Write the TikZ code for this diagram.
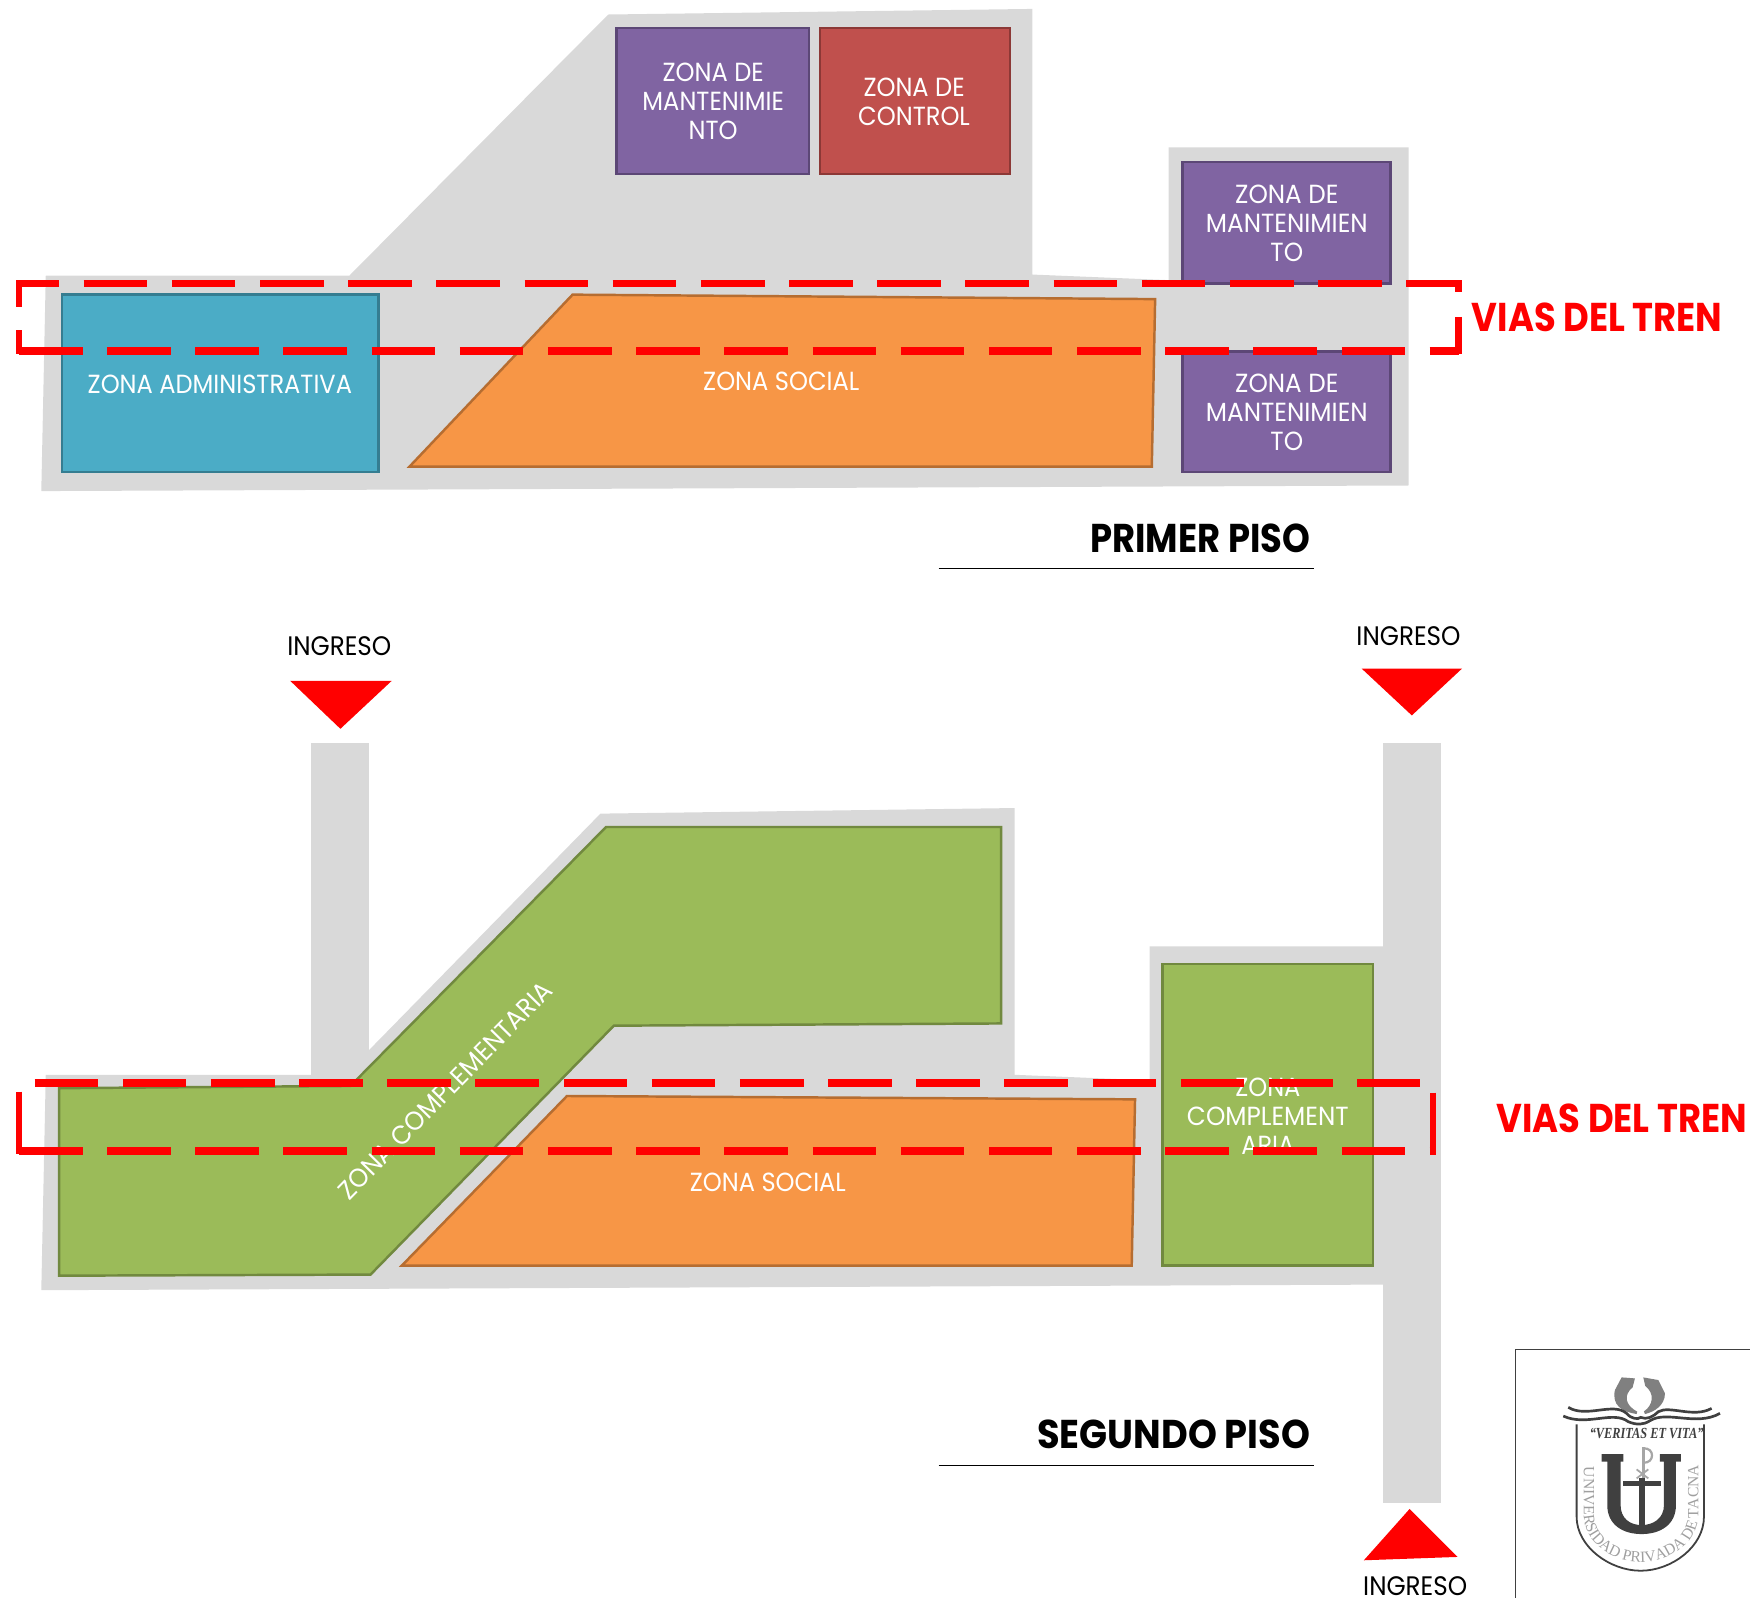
\documentclass[tikz,border=0pt]{standalone}
\usepackage{fontspec}
\usepackage{graphicx}
\usetikzlibrary{decorations.text}
\setmainfont{Poppins}
\newfontfamily\serifface{Liberation Serif}
\newcommand{\angosto}[1]{\scalebox{.92}[1]{#1}}
\newcommand{\estrecho}[1]{\scalebox{.88}[1]{#1}}
\definecolor{grisfondo}{HTML}{D9D9D9}
\definecolor{azulz}{HTML}{4BACC6}\definecolor{azulb}{HTML}{357D91}
\definecolor{naranjaz}{HTML}{F79646}\definecolor{naranjab}{HTML}{B66D31}
\definecolor{moradoz}{HTML}{8064A2}\definecolor{moradob}{HTML}{5C4776}
\definecolor{rojoz}{HTML}{C0504D}\definecolor{rojob}{HTML}{8C3836}
\definecolor{verdez}{HTML}{9BBB59}\definecolor{verdeb}{HTML}{71893F}
\definecolor{oscuro}{HTML}{404040}
\tikzset{
  fondo/.style={fill=grisfondo,draw=none},
  zona/.style={line width=2.2pt,line join=miter},
  azulzona/.style={zona,fill=azulz,draw=azulb},
  naranjazona/.style={zona,fill=naranjaz,draw=naranjab},
  moradozona/.style={zona,fill=moradoz,draw=moradob},
  rojozona/.style={zona,fill=rojoz,draw=rojob},
  verdezona/.style={zona,fill=verdez,draw=verdeb},
  etiqueta/.style={text=white,font=\fontsize{23.5}{26}\selectfont,align=center,inner sep=0pt},
  ingreso/.style={text=black,font=\fontsize{24}{26}\selectfont,inner sep=0pt},
  titulo/.style={text=black,font=\fontsize{36}{40}\selectfont\bfseries,inner sep=0pt,anchor=east},
  vias/.style={text=red,font=\fontsize{36}{42}\selectfont\bfseries,inner sep=0pt},
  regla/.style={line width=1pt,black},
  via/.style={draw=red,line width=7pt,dash pattern=on 57pt off 22pt},
  viasolida/.style={draw=red,line width=6pt},
  flecha/.style={fill=red,draw=none},
  marco/.style={draw=oscuro,line width=1pt},
}
\begin{document}
\begin{tikzpicture}[x=1pt,y=-1pt]
\useasboundingbox (0,0) rectangle (1568,1432);
% ---- primer piso
\fill[fondo] (41,247) -- (313,247) -- (545,13) -- (925,8) -- (925,246) -- (1047,251) -- (1047,132) -- (1262,132) -- (1262,435) -- (37,440) -- cycle;
\path[azulzona] (55.5,264) rectangle (339,423);
\path[naranjazona] (513,264) -- (1035,268) -- (1032,418) -- (367,418) -- cycle;
\path[moradozona] (552.5,25) rectangle (725,156);
\path[rojozona] (734.5,25) rectangle (905,156);
\path[moradozona] (1059.5,145) rectangle (1246,254);
\path[moradozona] (1059.5,315) rectangle (1246,423);
\node[etiqueta] (admin) at (197,344) {\angosto{ZONA ADMINISTRATIVA}};
\node[etiqueta] (social1) at (700,342) {\angosto{ZONA SOCIAL}};
\node[etiqueta] (mant1) at (639,91) {\angosto{ZONA DE}\\\angosto{MANTENIMIE}\\\angosto{NTO}};
\node[etiqueta] (control) at (819,91) {\angosto{ZONA DE}\\\angosto{CONTROL}};
\node[etiqueta] (mant2) at (1153,200) {\scalebox{.94}[1]{ZONA DE}\\\scalebox{.94}[1]{MANTENIMIEN}\\\scalebox{.94}[1]{TO}};
\node[etiqueta] (mant3) at (1153,369.5) {\scalebox{.94}[1]{ZONA DE}\\\scalebox{.94}[1]{MANTENIMIEN}\\\scalebox{.94}[1]{TO}};
% vias primer piso
\draw[via,dash phase=20pt] (16,254) -- (1307,254);
\draw[via] (17,314.5) -- (1307,314.5);
\draw[viasolida] (17,251) -- (17,275) (17,296) -- (17,317.5);
\draw[viasolida] (1307,251) -- (1307,262) (1307,284) -- (1307,317.5);
\node[vias] (tren1) at (1431,284) {\estrecho{VIAS DEL TREN}};
\node[titulo] (piso1) at (1174,482) {\estrecho{PRIMER PISO}};
\draw[regla] (841,509) -- (1177,509);
% ---- segundo piso
\fill[fondo] (279,666) rectangle (331,970);
\fill[fondo] (1239,666) rectangle (1291,1347);
\fill[fondo] (41,963) -- (309,963) -- (538,729) -- (909,724) -- (909,963) -- (1030,968) -- (1030,848) -- (1239,848) -- (1239,1151) -- (37,1156) -- cycle;
\path[verdezona] (53,975) -- (314,973) -- (543,741) -- (897,741) -- (897,917) -- (550,919) -- (332,1142) -- (53,1143) -- cycle;
\path[naranjazona] (508,982) -- (1017,985) -- (1014,1134) -- (360,1134) -- cycle;
\path[verdezona] (1041.5,863.5) rectangle (1230,1134);
\node[etiqueta,rotate=45.5] (compl1) at (399,977) {\scalebox{.95}[1]{ZONA COMPLEMENTARIA}};
\node[etiqueta] (social2) at (688,1059.5) {\angosto{ZONA SOCIAL}};
\node[etiqueta] (compl2) at (1136,1000) {\angosto{ZONA}\\\scalebox{.94}[1]{COMPLEMENT}\\\angosto{ARIA}};
% vias segundo piso
\draw[via] (31,970) -- (1272,970);
\draw[via] (17,1031) -- (1287,1031);
\draw[viasolida] (17,978) -- (17,1034);
\draw[viasolida] (1284,979) -- (1284,1034);
\node[vias] (tren2) at (1453,1002) {\estrecho{VIAS DEL TREN}};
\node[titulo] (piso2) at (1174,1285) {\scalebox{.915}[1]{SEGUNDO PISO}};
\draw[regla] (841,1313) -- (1177,1313);
% ingresos
\fill[flecha] (260,610) -- (351,610) -- (305,653) -- cycle;
\fill[flecha] (1220,599) -- (1310,599) -- (1265,641) -- cycle;
\fill[flecha] (1263,1352) -- (1306,1395) -- (1222,1398) -- cycle;
\node[ingreso] (ing1) at (304,579) {\angosto{INGRESO}};
\node[ingreso] (ing2) at (1262,570) {\angosto{INGRESO}};
\node[ingreso] (ing3) at (1268,1421) {\angosto{INGRESO}};
% ---- marco y escudo
\draw[marco] (1568,1209) -- (1358,1209) -- (1358,1432);
\begin{scope}[xshift=1326pt,yshift=-1191.7pt,x=.2987pt,y=-.2987pt]
  % corona
  \fill[gray] (425,142) -- (465,145) -- (458,172) .. controls (430,195) and (435,225) .. (472,245) -- (470,252) .. controls (425,245) and (395,225) .. (405,180) -- cycle;
  \fill[gray] (490,142) -- (535,150) -- (555,190) .. controls (555,225) and (525,245) .. (495,252) -- (492,244) .. controls (520,225) and (525,190) .. (496,168) -- cycle;
  % escudo
  \draw[oscuro,line width=1.6pt] (290,283) -- (290,560) .. controls (290,650) and (390,722) .. (482,722) .. controls (575,722) and (672,650) .. (672,560) -- (672,283);
  % ondas
  \draw[oscuro,line width=2.4pt] (265,232) .. controls (320,265) and (400,215) .. (440,250) .. controls (455,268) and (475,268) .. (482,262) .. controls (500,270) and (520,260) .. (535,245) .. controls (570,225) and (640,265) .. (695,235);
  \draw[oscuro,line width=2.4pt] (250,258) .. controls (320,290) and (400,240) .. (445,275) .. controls (470,285) and (490,285) .. (510,272) .. controls (560,240) and (650,290) .. (720,250);
  % texto lema
  \node[inner sep=0pt,text=oscuro,font=\serifface\bfseries\itshape\fontsize{12}{14}\selectfont] (lema) at (500,309) {\scalebox{.92}[1.15]{“VERITAS ET VITA”}};
  % chi-rho
  \draw[gray!70,line width=2.2pt] (490,352) -- (490,445);
  \draw[gray!70,line width=2pt] (490,355) .. controls (525,352) and (525,400) .. (490,398);
  \draw[gray!70,line width=1.6pt] (470,418) -- (505,445) (505,418) -- (470,445);
  % U y cruz
  \fill[oscuro] (365,372) -- (430,372) -- (430,395) -- (422,395) -- (422,525) .. controls (422,565) and (450,585) .. (485,585) .. controls (520,585) and (552,565) .. (552,525) -- (552,395) -- (540,395) -- (540,372) -- (603,372) -- (603,395) -- (588,395) -- (588,525) .. controls (588,585) and (540,612) .. (485,612) .. controls (430,612) and (382,585) .. (382,525) -- (382,395) -- (365,395) -- cycle;
  \fill[oscuro] (428,452) rectangle (542,468);
  \fill[oscuro] (478,445) rectangle (495,590);
  % texto circular
  \path[decorate,decoration={text along path,text align={fit to path},
    text color=gray!75,
    text={|\serifface\fontsize{14}{16}\selectfont|UNIVERSIDAD PRIVADA DE TACNA}}]
    (312,410) -- (312,555) .. controls (312,640) and (400,697) .. (482,697) .. controls (565,697) and (655,640) .. (655,555) -- (655,410);
\end{scope}
\end{tikzpicture}
\end{document}
